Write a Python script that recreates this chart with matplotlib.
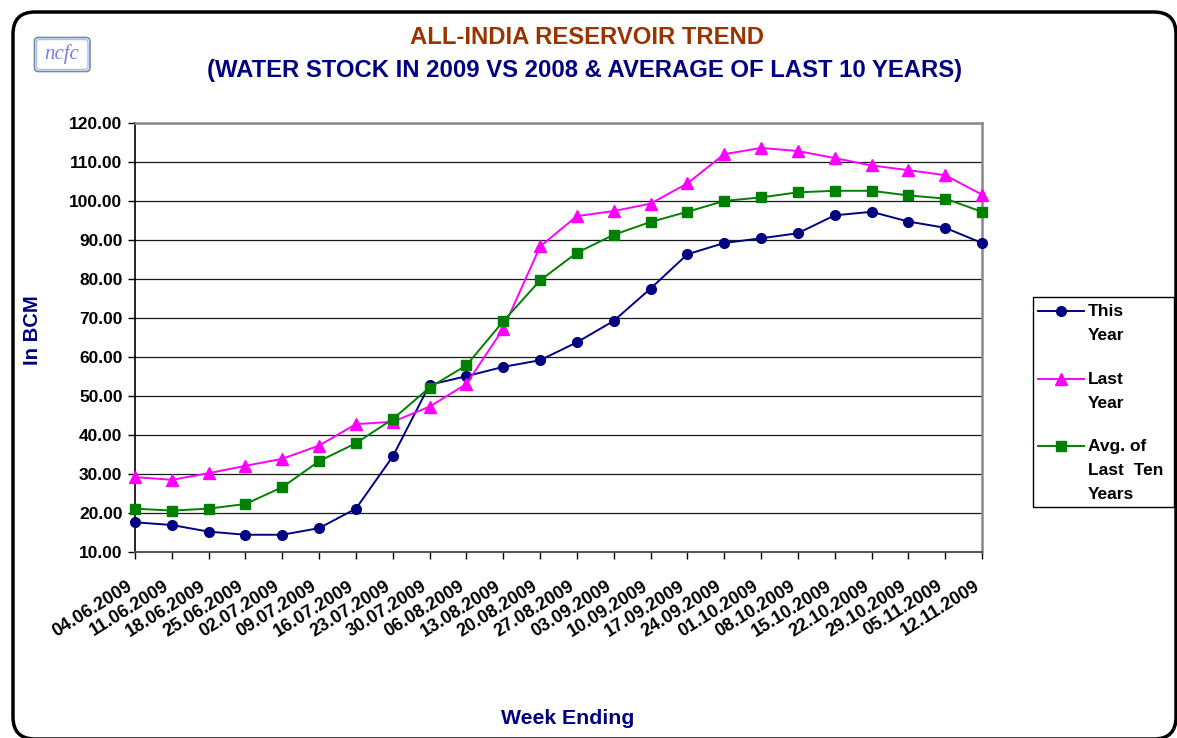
import matplotlib
matplotlib.use("Agg")
import matplotlib.pyplot as plt
from matplotlib.patches import FancyBboxPatch, Rectangle
from matplotlib.lines import Line2D
from matplotlib.ticker import FormatStrFormatter
from matplotlib.transforms import ScaledTranslation

plt.rcParams['font.family'] = ['Liberation Sans', 'DejaVu Sans']

weeks = ["04.06.2009", "11.06.2009", "18.06.2009", "25.06.2009", "02.07.2009",
         "09.07.2009", "16.07.2009", "23.07.2009", "30.07.2009", "06.08.2009",
         "13.08.2009", "20.08.2009", "27.08.2009", "03.09.2009", "10.09.2009",
         "17.09.2009", "24.09.2009", "01.10.2009", "08.10.2009", "15.10.2009",
         "22.10.2009", "29.10.2009", "05.11.2009", "12.11.2009"]

this_year = [17.5, 16.8, 15.1, 14.3, 14.3, 16.0, 21.0, 34.4, 52.8, 55.0, 57.4, 59.1,
             63.7, 69.2, 77.5, 86.3, 89.2, 90.4, 91.7, 96.3, 97.2, 94.7, 93.1, 89.2]
last_year = [29.1, 28.4, 30.1, 32.0, 33.8, 37.2, 42.7, 43.3, 47.2, 53.0, 67.2, 88.3,
             96.1, 97.4, 99.3, 104.5, 112.0, 113.6, 112.8, 111.0, 109.1, 107.9, 106.6, 101.6]
avg_ten = [21.0, 20.5, 21.0, 22.2, 26.5, 33.2, 37.8, 44.0, 52.1, 57.8, 69.1, 79.6,
           86.7, 91.3, 94.6, 97.2, 100.0, 100.9, 102.2, 102.6, 102.6, 101.4, 100.6, 97.2]

series_names = ["This\nYear", "Last\nYear", "Avg. of\nLast  Ten\nYears"]
series_colors = ["#000080", "#FF00FF", "#008000"]
series_markers = ["o", "^", "s"]
series_msize = [7, 8.5, 7]

W, H = 1177, 738
fig = plt.figure(figsize=(W / 100, H / 100), dpi=100)


def fx(x):
    return x / W


def fy(y):
    return 1 - y / H


# outer rounded frame
frame = FancyBboxPatch((13, -1), 1163, 727, boxstyle="round,pad=0,rounding_size=22",
                       transform=None, fill=False, edgecolor="black", linewidth=2.5,
                       zorder=0)
fig.patches.append(frame)

ax = fig.add_axes([fx(135), fy(551.5), fx(982) - fx(135), fy(123) - fy(551.5)])

xs = list(range(len(weeks)))
for vals, name, c, m, ms in zip([this_year, last_year, avg_ten], series_names,
                                series_colors, series_markers, series_msize):
    ax.plot(xs, vals, color=c, marker=m, markersize=ms, linewidth=1.4,
            markeredgecolor=c, markerfacecolor=c, clip_on=False, zorder=3)

ax.set_xlim(0, len(weeks) - 1)
ax.set_ylim(10, 120)
ax.set_yticks(range(10, 121, 10))
ax.yaxis.set_major_formatter(FormatStrFormatter("%.2f"))
ax.set_xticks(xs)
ax.tick_params(axis="y", labelsize=12.5, direction="out", length=5, width=1,
               pad=4)
ax.tick_params(axis="x", direction="out", length=5, width=1, pad=0)
ax.set_xticklabels(weeks, rotation=32, ha="right", va="center",
                   rotation_mode="anchor", fontsize=13, fontweight="bold")
shift = ScaledTranslation(-4 / 100, 0, fig.dpi_scale_trans)
for lab in ax.get_xticklabels():
    lab.set_y(-0.062)
    lab.set_transform(lab.get_transform() + shift)
for lab in ax.get_yticklabels():
    lab.set_fontweight("bold")

ax.grid(axis="y", color="#1a1a1a", linewidth=0.9, zorder=1)
ax.set_axisbelow(True)
ax.spines["left"].set_color("black")
ax.spines["left"].set_linewidth(1.2)
ax.spines["bottom"].set_color("#555555")
ax.spines["bottom"].set_linewidth(1.5)
ax.spines["top"].set_color("#888888")
ax.spines["top"].set_linewidth(1.8)
ax.spines["right"].set_color("#888888")
ax.spines["right"].set_linewidth(1.8)

# titles
fig.text(fx(587), fy(37), "ALL-INDIA RESERVOIR TREND", ha="center", va="center",
         fontsize=17.2, fontweight="bold", color="#993300")
fig.text(fx(585), fy(70), "(WATER STOCK IN 2009 VS 2008 & AVERAGE OF LAST 10 YEARS)",
         ha="center", va="center", fontsize=17.2, fontweight="bold", color="#000080")
fig.text(fx(32), fy(330), "In BCM", rotation=90, ha="center", va="center",
         fontsize=14.6, fontweight="bold", color="#000080")
fig.text(fx(568), fy(719), "Week Ending", ha="center", va="center",
         fontsize=15.3, fontweight="bold", color="#000080")

# logo
logo = FancyBboxPatch((34.5, H - 71.5), 55.5, 34, boxstyle="round,pad=0,rounding_size=4",
                      transform=None, facecolor="white", edgecolor="#6f8f9a",
                      linewidth=1.2)
fig.patches.append(logo)
logo2 = FancyBboxPatch((36.5, H - 69.5), 51.5, 30, boxstyle="round,pad=0,rounding_size=3",
                       transform=None, fill=False, edgecolor="#b0b8ff", linewidth=1.0)
fig.patches.append(logo2)
fig.text(fx(62), fy(54), "ncfc", ha="center", va="center", fontsize=15,
         family="Liberation Serif", style="italic", color="#7b7bef")

# legend (manual, first line aligned with marker)
leg_box = Rectangle((1033, H - 506.5), 141, 210, transform=None, fill=False,
                    edgecolor="black", linewidth=1.0)
fig.patches.append(leg_box)
legend_y = [311, 379, 446]
for y, name, c, m, ms in zip(legend_y, series_names, series_colors, series_markers,
                             series_msize):
    fig.add_artist(Line2D([fx(1038), fx(1084)], [fy(y), fy(y)], color=c, linewidth=1.4))
    fig.add_artist(Line2D([fx(1061)], [fy(y)], color=c, marker=m, markersize=ms,
                          markerfacecolor=c, markeredgecolor=c, linestyle="none"))
    for i, line in enumerate(name.split("\n")):
        fig.text(fx(1088), fy(y - 1 + 24 * i), line, ha="left", va="center_baseline",
                 fontsize=12.5, fontweight="bold", color="black")

fig.savefig("out.png", dpi=100)
